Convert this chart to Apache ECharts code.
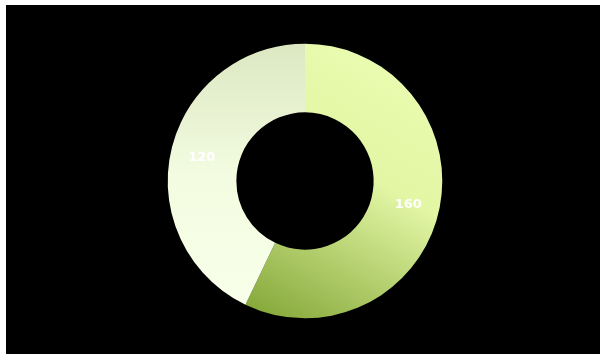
<!DOCTYPE html>
<html>
<head>
<meta charset="utf-8">
<script src="https://cdn.jsdelivr.net/npm/echarts@6/dist/echarts.min.js"></script>
<style>
  html, body { margin: 0; padding: 0; background: #ffffff; overflow: hidden; width: 600px; height: 354px; }
  #chart { position: absolute; left: 6px; top: 5px; width: 598px; height: 352px; background: #000000; }
</style>
</head>
<body>
<div id="chart"></div>
<script>
// Two-slice donut values
var sliceNames = ['A', 'B'];
var sliceValues = [160, 120];

var sliceColors = [
  new echarts.graphic.LinearGradient(0.9, 0, 0.1, 1, [
    { offset: 0, color: '#ebfdb3' },
    { offset: 0.45, color: '#e2f6a4' },
    { offset: 1, color: '#86a93a' }
  ]),
  new echarts.graphic.LinearGradient(0, 0, 0, 1, [
    { offset: 0, color: '#dce7c2' },
    { offset: 0.5, color: '#f3fce0' },
    { offset: 1, color: '#f8ffea' }
  ])
];

var chart = echarts.init(document.getElementById('chart'));
chart.setOption({
  backgroundColor: '#000000',
  animation: false,
  series: [{
    type: 'pie',
    radius: ['39%', '78%'],
    center: ['50%', '50%'],
    startAngle: 90,
    clockwise: true,
    label: {
      show: true,
      position: 'inside',
      formatter: '{c}',
      color: '#ffffff',
      fontSize: 13,
      fontWeight: 'bold',
      fontFamily: 'DejaVu Sans'
    },
    labelLine: { show: false },
    itemStyle: { borderWidth: 0 },
    data: sliceNames.map(function (n, i) {
      return { name: n, value: sliceValues[i], itemStyle: { color: sliceColors[i] } };
    })
  }]
});
</script>
</body>
</html>
